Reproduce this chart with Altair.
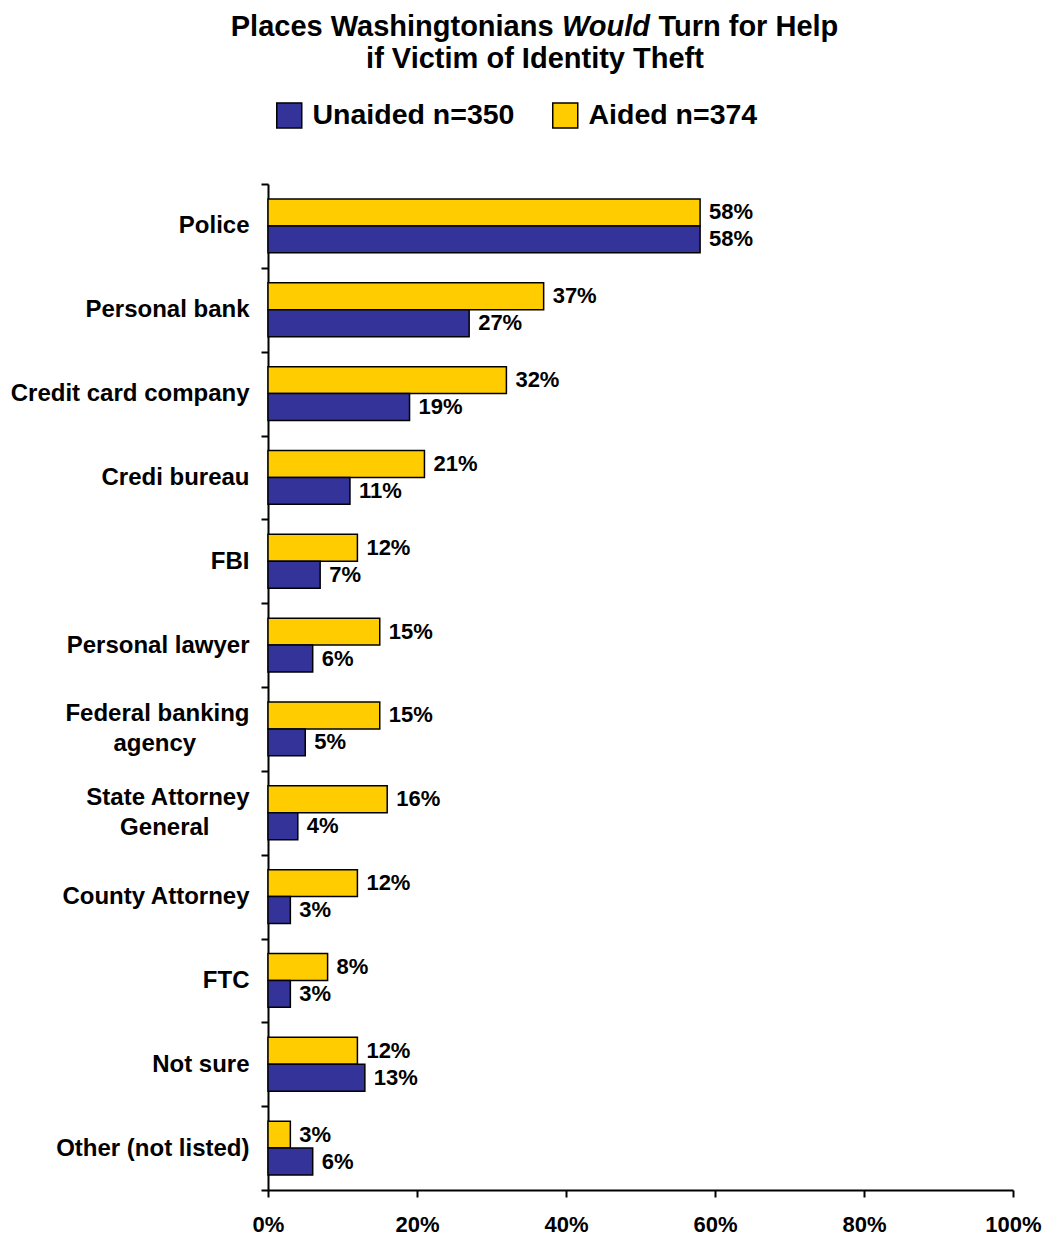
import altair as alt
import pandas as pd

categories = ["Police", "Personal bank", "Credit card company", "Credi bureau", "FBI",
              "Personal lawyer", "Federal banking\nagency", "State Attorney\nGeneral",
              "County Attorney", "FTC", "Not sure", "Other (not listed)"]
aided = [58, 37, 32, 21, 12, 15, 15, 16, 12, 8, 12, 3]
unaided = [58, 27, 19, 11, 7, 6, 5, 4, 3, 3, 13, 6]
series = ["Unaided n=350", "Aided n=374"]
colors = ["#333399", "#FFCC00"]
x_ticks = [0, 0.2, 0.4, 0.6, 0.8, 1.0]
title_line1 = ["Places Washingtonians", "Would", "Turn for Help"]
title_line2 = "if Victim of Identity Theft"

FONT = "Liberation Sans"
NBSP = "\u00a0"
ZWSP = "\u200b"  # invisible, untrimmed character used for spacer lines / to keep padding
# trailing no-break spaces so the second line of a two-line label sits centred under the first
second_line_pad = {"Federal banking\nagency": 8, "State Attorney\nGeneral": 6}

rows = []
for c, a, u in zip(categories, aided, unaided):
    rows.append({"category": c, "series": series[1], "value": a / 100})
    rows.append({"category": c, "series": series[0], "value": u / 100})
df = pd.DataFrame(rows)

# half-height line spacing: one-line labels get a spacer line above, two-line labels a spacer
# between their lines, so that both kinds end up vertically centred on their band
label_expr = f"['{ZWSP}', datum.label]"
for cat, n in second_line_pad.items():
    first, second = cat.split("\n")
    label_expr = (f"datum.label == '{first}\\n{second}' ? "
                  f"['{first}', '{ZWSP}', '{second}{NBSP * n}{ZWSP}'] : " + label_expr)

W, H = 745, 1006

x_enc = alt.X("value:Q", scale=alt.Scale(domain=[0, 1], nice=False),
              axis=alt.Axis(values=x_ticks, format=".0%", title=None, grid=False,
                            labelFontSize=22, labelFontWeight="bold", labelColor="black",
                            labelFont=FONT, tickColor="black", domainColor="black",
                            tickSize=7, tickWidth=2, domainWidth=2, labelPadding=17,
                            labelFlush=False))

y_enc = alt.Y("category:N",
              scale=alt.Scale(domain=categories, paddingInner=0, paddingOuter=0),
              axis=alt.Axis(title=None, labelExpr=label_expr,
                            labelFontSize=24, labelFontWeight="bold", labelColor="black",
                            labelFont=FONT, labelLineHeight=15, labelOffset=-15,
                            labelLimit=400,
                            tickBand="extent", tickSize=7, tickWidth=2, domainWidth=2,
                            tickColor="black", domainColor="black",
                            labelAlign="right", labelPadding=12))

yoff = alt.YOffset("series:N",
                   scale=alt.Scale(domain=[series[1], series[0]], paddingInner=0, paddingOuter=0.556))

bars = alt.Chart(df).mark_bar(stroke="black", strokeWidth=1.5).encode(
    x=x_enc, y=y_enc, yOffset=yoff,
    color=alt.Color("series:N", scale=alt.Scale(domain=series, range=colors),
                    legend=alt.Legend(title=None, orient="none", legendX=7, legendY=-83,
                                      direction="horizontal", columns=2, columnPadding=34,
                                      symbolType="square", symbolSize=625,
                                      symbolStrokeColor="black", symbolStrokeWidth=1.5,
                                      labelFontSize=28.5, labelFontWeight="bold",
                                      labelColor="black", labelFont=FONT, labelOffset=9,
                                      labelLimit=400, padding=0))
)

labels = alt.Chart(df).mark_text(align="left", baseline="middle", dx=9, fontSize=22,
                                 fontWeight="bold", font=FONT, color="black").encode(
    x=x_enc, y=y_enc, yOffset=yoff,
    text=alt.Text("value:Q", format=".0%")
)

tdf = pd.DataFrame({"k": [0]})
tkw = dict(fontSize=29, fontWeight="bold", font=FONT, color="black", baseline="alphabetic")
t1 = alt.Chart(tdf).mark_text(text=title_line1[0], align="right", **tkw).encode(
    x=alt.value(285.6), y=alt.value(-148))
t2 = alt.Chart(tdf).mark_text(text=title_line1[1], align="center", fontStyle="italic", **tkw).encode(
    x=alt.value(338), y=alt.value(-148))
t3 = alt.Chart(tdf).mark_text(text=title_line1[2], align="left", **tkw).encode(
    x=alt.value(390.4), y=alt.value(-148))
t4 = alt.Chart(tdf).mark_text(text=title_line2, align="center", **tkw).encode(
    x=alt.value(267), y=alt.value(-116))

chart = alt.layer(bars, labels, t1, t2, t3, t4).properties(
    width=W, height=H,
    autosize=alt.AutoSizeParams(type="none"),
    padding={"left": 268, "top": 184, "right": 33, "bottom": 47},
    background="white",
).configure_view(stroke="transparent")

chart.save("out.html", embed_options={"renderer": "svg", "actions": False})
